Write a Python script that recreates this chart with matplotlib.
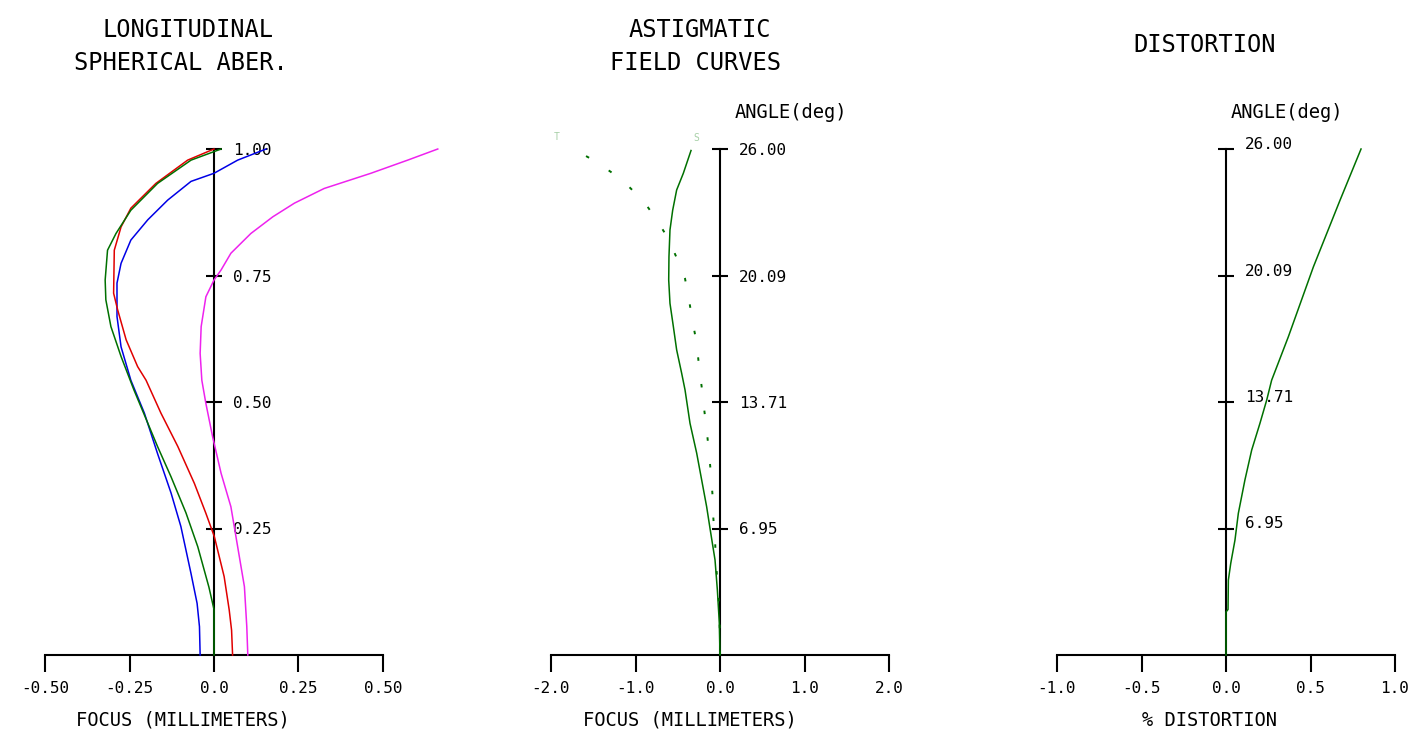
import matplotlib
matplotlib.use("Agg")
import matplotlib.pyplot as plt
import matplotlib.transforms as mtransforms

plt.rcParams['font.family'] = ['DejaVu Sans Mono']

# --- longitudinal spherical aberration (pupil height vs focus, mm)
pupil_green = [0, 0.09, 0.134, 0.214, 0.281, 0.352, 0.412, 0.524, 0.590, 0.649, 0.702, 0.741, 0.800, 0.833, 0.879, 0.932, 0.978, 1.0]
focus_green = [0, 0, -0.015, -0.048, -0.083, -0.127, -0.167, -0.237, -0.275, -0.305, -0.320, -0.322, -0.315, -0.290, -0.246, -0.167, -0.068, 0.021]

pupil_red = [0, 0.049, 0.089, 0.155, 0.234, 0.280, 0.339, 0.412, 0.478, 0.543, 0.570, 0.623, 0.682, 0.715, 0.800, 0.846, 0.883, 0.932, 0.978, 1.0]
focus_red = [0.055, 0.052, 0.045, 0.030, 0.001, -0.024, -0.058, -0.107, -0.157, -0.201, -0.226, -0.260, -0.285, -0.297, -0.295, -0.275, -0.246, -0.172, -0.078, 0.0]

pupil_blue = [0, 0.056, 0.102, 0.161, 0.254, 0.320, 0.398, 0.478, 0.543, 0.609, 0.669, 0.735, 0.774, 0.820, 0.860, 0.899, 0.936, 0.952, 0.978, 1.0]
focus_blue = [-0.041, -0.043, -0.050, -0.068, -0.098, -0.127, -0.167, -0.206, -0.246, -0.275, -0.287, -0.287, -0.275, -0.246, -0.196, -0.137, -0.068, 0.0, 0.070, 0.154]

pupil_mag = [0, 0.056, 0.135, 0.214, 0.293, 0.359, 0.431, 0.497, 0.543, 0.596, 0.649, 0.708, 0.741, 0.761, 0.794, 0.833, 0.866, 0.893, 0.922, 0.952, 0.978, 1.0]
focus_mag = [0.100, 0.097, 0.090, 0.070, 0.050, 0.021, -0.004, -0.024, -0.036, -0.041, -0.038, -0.024, 0.0, 0.021, 0.050, 0.109, 0.174, 0.238, 0.326, 0.464, 0.573, 0.662]

# --- astigmatic field curves (relative field vs focus, mm)
field_s = [0, 0.063, 0.128, 0.188, 0.250, 0.293, 0.346, 0.399, 0.458, 0.524, 0.557, 0.603, 0.649, 0.695, 0.741, 0.787, 0.840, 0.879, 0.919, 0.952, 0.997]
focus_s = [0.0, -0.008, -0.031, -0.059, -0.118, -0.158, -0.217, -0.276, -0.355, -0.414, -0.454, -0.513, -0.552, -0.592, -0.607, -0.604, -0.592, -0.560, -0.513, -0.434, -0.343]

field_t = [0, 0.036, 0.102, 0.142, 0.184, 0.227, 0.271, 0.313, 0.356, 0.401, 0.445, 0.488, 0.530, 0.572, 0.616, 0.659, 0.702, 0.744, 0.785, 0.823, 0.860, 0.896, 0.928, 0.955, 0.978, 1.0]
focus_t = [0, 0, -0.012, -0.031, -0.047, -0.059, -0.079, -0.087, -0.107, -0.130, -0.158, -0.189, -0.217, -0.249, -0.276, -0.324, -0.367, -0.414, -0.513, -0.612, -0.750, -0.899, -1.093, -1.294, -1.499, -1.736]

# --- distortion (relative field vs %)
field_d = [0, 0.085, 0.09, 0.148, 0.181, 0.227, 0.280, 0.346, 0.405, 0.458, 0.504, 0.543, 0.629, 0.767, 0.899, 1.0]
dist_d = [0, 0.0, 0.012, 0.014, 0.028, 0.053, 0.073, 0.112, 0.152, 0.201, 0.241, 0.270, 0.369, 0.517, 0.675, 0.799]

field_ticks = [0.25, 0.5, 0.75, 1.0]
pupil_labels = ['0.25', '0.50', '0.75', '1.00']
angle_labels = ['6.95', '13.71', '20.09', '26.00']

W, H = 1418, 744
fig = plt.figure(figsize=(W / 100, H / 100), dpi=100)


def px(x, y):
    return x / W, 1 - y / H


def make_axes(left_px, xlim, xticks, xticklabels, yticklabels):
    ax = fig.add_axes([left_px / W, 1 - 655 / H, 338 / W, 506 / H])
    ax.set_xlim(xlim)
    ax.set_ylim(0, 1)
    ax.patch.set_alpha(0)
    for s in ['top', 'left']:
        ax.spines[s].set_visible(False)
    ax.spines['bottom'].set_linewidth(1.5)
    ax.spines['right'].set_position(('data', 0))
    ax.spines['right'].set_bounds(0, 1)
    ax.spines['right'].set_linewidth(1.5)
    ax.set_xticks(xticks)
    ax.set_xticklabels(xticklabels)
    ax.yaxis.tick_right()
    ax.set_yticks(field_ticks)
    ax.set_yticklabels(yticklabels)
    ax.tick_params(axis='x', direction='out', length=12, width=1.5, pad=7, labelsize=11.5)
    ax.tick_params(axis='y', direction='inout', length=11.5, width=1.5, pad=8, labelsize=11.5)
    return ax


# panel 1
ax1 = make_axes(45, (-0.5, 0.5), [-0.5, -0.25, 0, 0.25, 0.5],
                ['-0.50', '-0.25', '0.0', '0.25', '0.50'], pupil_labels)
ax1.plot(focus_mag, pupil_mag, color='#ee22ee', lw=1.1, clip_on=False, zorder=3)
ax1.plot(focus_blue, pupil_blue, color='#0000e6', lw=1.1, clip_on=False, zorder=3)
ax1.plot(focus_red, pupil_red, color='#e00000', lw=1.1, clip_on=False, zorder=3)
ax1.plot(focus_green, pupil_green, color='#007000', lw=1.1, clip_on=False, zorder=4)

# panel 2
ax2 = make_axes(551, (-2, 2), [-2, -1, 0, 1, 2],
                ['-2.0', '-1.0', '0.0', '1.0', '2.0'], angle_labels)
ax2.plot(focus_s, field_s, color='#007000', lw=1.1, clip_on=False, zorder=3)
ax2.plot(focus_t, field_t, color='#007000', lw=1.4, ls=(0, (1.8, 12)), clip_on=False, zorder=3)
ax2.annotate('T', (focus_t[-1], field_t[-1]), xytext=(-12, 9), textcoords='offset points',
             fontsize=7, color='#a8d0a8', ha='center', va='center')
ax2.annotate('S', (focus_s[-1], field_s[-1]), xytext=(4, 9), textcoords='offset points',
             fontsize=7, color='#a8d0a8', ha='center', va='center')

# panel 3
ax3 = make_axes(1057, (-1, 1), [-1, -0.5, 0, 0.5, 1],
                ['-1.0', '-0.5', '0.0', '0.5', '1.0'], angle_labels)
ax3.plot(dist_d, field_d, color='#007000', lw=1.1, clip_on=False, zorder=3)
shift = mtransforms.ScaledTranslation(0, 6 / 100, fig.dpi_scale_trans)
for lab in ax3.get_yticklabels():
    lab.set_transform(lab.get_transform() + shift)

# titles and labels
tkw = dict(fontsize=17, ha='center', va='center')
fig.text(*px(188, 30), 'LONGITUDINAL', **tkw)
fig.text(*px(181, 63), 'SPHERICAL ABER.', **tkw)
fig.text(*px(700, 30), 'ASTIGMATIC', **tkw)
fig.text(*px(695, 63), 'FIELD CURVES', **tkw)
fig.text(*px(1205, 45), 'DISTORTION', **tkw)

lkw = dict(fontsize=13.5, ha='center', va='center')
fig.text(*px(183, 720), 'FOCUS (MILLIMETERS)', **lkw)
fig.text(*px(690, 720), 'FOCUS (MILLIMETERS)', **lkw)
fig.text(*px(1210, 720), '% DISTORTION', **lkw)

fig.text(*px(735, 113), 'ANGLE(deg)', fontsize=13.5, ha='left', va='center')
fig.text(*px(1231, 113), 'ANGLE(deg)', fontsize=13.5, ha='left', va='center')

fig.savefig('out.png', dpi=100)
